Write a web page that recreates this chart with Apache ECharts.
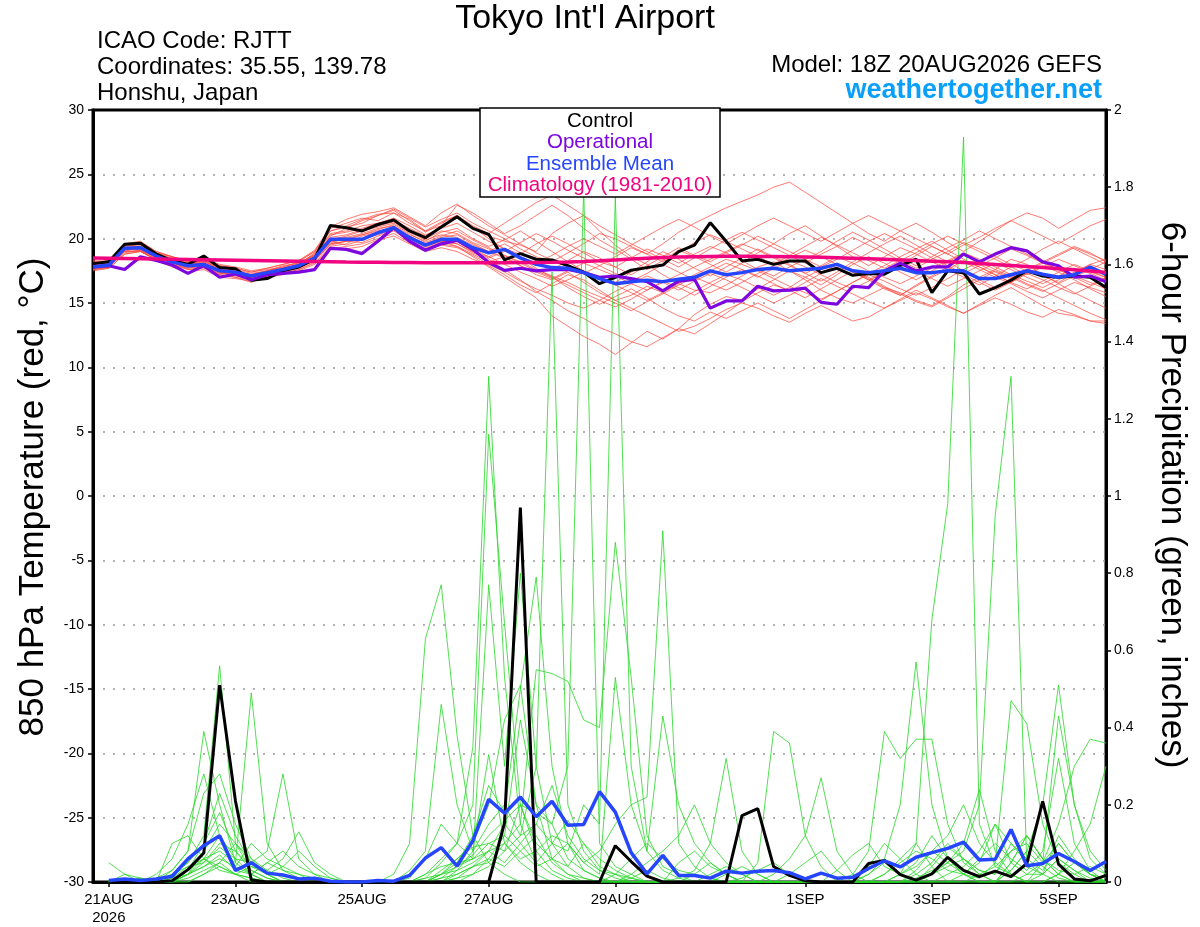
<!DOCTYPE html>
<html>
<head>
<meta charset="utf-8">
<script src="https://cdn.jsdelivr.net/npm/echarts@6/dist/echarts.min.js"></script>
<style>
html,body{margin:0;padding:0;background:#fff;}
#chart{width:1200px;height:927px;}
</style>
</head>
<body>
<div id="chart"></div>
<script>
// ---------- time axis (6-hourly from 18Z 20AUG2026, 65 steps) ----------
const runStartUTC = Date.UTC(2026, 7, 20, 18);
const stepHours = 6;
const stepCount = 65;
const monthNames = ["JAN","FEB","MAR","APR","MAY","JUN","JUL","AUG","SEP","OCT","NOV","DEC"];
const times = [];
for (let k = 0; k < stepCount; k++) {
  const d = new Date(runStartUTC + k * stepHours * 3600000);
  times.push(String(d.getUTCDate()).padStart(2, "0") + monthNames[d.getUTCMonth()] + " " + String(d.getUTCHours()).padStart(2, "0") + "Z");
}
const tickTimes  = ["21AUG 00Z","23AUG 00Z","25AUG 00Z","27AUG 00Z","29AUG 00Z","01SEP 00Z","03SEP 00Z","05SEP 00Z"];
const tickLabels = ["21AUG\n2026","23AUG","25AUG","27AUG","29AUG","1SEP","3SEP","5SEP"];

// ---------- 850 hPa temperature (°C) ----------
const tempControl = [18.06,18.2,19.56,19.64,18.8,18.3,18.0,18.65,17.75,17.67,
  16.77,16.9,17.5,17.8,18.4,21.03,20.85,20.6,21.1,21.45,
  20.6,20.08,20.9,21.7,20.8,20.34,18.35,18.84,18.4,18.35,
  17.9,17.4,16.5,17.0,17.55,17.75,17.95,19.0,19.5,21.24,
  19.8,18.27,18.4,18.0,18.27,18.27,17.36,17.7,17.15,17.3,
  17.23,17.9,18.4,15.8,17.5,17.36,15.7,16.2,16.77,17.5,
  17.1,17.0,17.1,17.0,16.2];
const tempOperational = [17.8,17.9,17.6,18.6,18.3,17.95,17.3,17.9,17.0,17.25,
  16.8,17.2,17.3,17.4,17.6,19.25,19.17,18.84,19.8,20.85,
  19.8,19.1,19.6,19.87,19.17,18.14,17.54,17.7,17.5,17.6,
  17.6,17.36,17.0,17.1,16.9,16.66,15.94,16.7,16.84,14.6,
  15.16,15.16,16.3,15.94,16.0,16.15,15.05,14.9,16.3,16.2,
  17.5,18.1,17.5,17.8,17.8,18.8,18.2,18.8,19.3,19.05,
  18.2,17.9,17.0,17.1,16.66];
const tempMean = [17.8,17.95,19.25,19.3,18.65,18.2,17.9,18.0,17.5,17.4,
  17.1,17.36,17.6,17.9,18.5,19.95,19.95,19.95,20.46,20.85,
  20.08,19.5,19.95,19.95,19.3,18.9,19.17,18.5,18.0,17.75,
  17.7,17.36,16.9,16.5,16.66,16.77,16.66,16.84,17.0,17.5,
  17.2,17.36,17.6,17.7,17.5,17.6,17.7,18.0,17.5,17.36,
  17.5,17.7,17.36,17.36,17.5,17.5,16.9,16.9,17.2,17.5,
  17.23,17.0,17.2,17.8,17.23];
const tempClimatology = [18.5,18.48,18.46,18.44,18.42,18.4,18.38,18.36,18.34,18.32,
  18.3,18.28,18.26,18.24,18.22,18.2,18.18,18.17,18.16,18.15,
  18.14,18.13,18.12,18.12,18.12,18.12,18.13,18.14,18.15,18.16,
  18.18,18.22,18.28,18.35,18.42,18.48,18.53,18.57,18.6,18.62,
  18.63,18.63,18.62,18.61,18.6,18.58,18.55,18.52,18.48,18.44,
  18.4,18.35,18.3,18.25,18.2,18.14,18.07,18.0,17.92,17.84,
  17.76,17.67,17.58,17.48,17.38];
const tempMembers = [
 [18.0,18.1,19.0,19.4,18.6,18.4,18.0,18.3,17.6,17.2,16.8,17.0,17.4,17.9,18.8,20.4,20.6,21.0,21.2,21.4,20.8,20.2,20.9,21.6,20.8,20.2,19.8,19.5,19.0,20.4,21.2,21.8,20.6,19.5,18.6,18.0,17.2,16.5,16.0,15.8,16.4,17.1,17.8,18.2,17.5,16.8,16.0,15.4,15.0,15.6,16.2,15.8,15.2,14.8,15.5,16.4,17.0,17.6,18.4,18.0,17.2,16.5,15.8,15.2,14.6],
 [17.6,17.8,19.2,19.1,18.3,18.0,17.6,17.8,17.2,17.0,16.6,17.1,17.3,17.6,18.2,19.4,19.6,20.2,20.5,20.8,20.2,19.5,19.8,19.4,18.6,17.8,17.0,16.2,15.4,14.0,13.2,12.4,11.8,11.0,11.9,12.8,12.2,13.0,14.1,14.9,15.5,15.2,16.1,16.8,17.5,17.0,16.4,17.2,18.0,18.6,18.1,17.4,16.8,17.5,18.2,18.8,18.0,17.4,16.9,17.6,18.2,17.6,17.0,16.4,17.0],
 [18.2,18.0,19.4,19.6,18.9,18.5,18.1,18.2,17.8,17.6,17.3,17.5,17.9,18.1,18.7,20.2,20.8,21.4,21.8,22.3,21.6,20.9,21.5,22.0,21.2,20.6,20.0,19.2,18.6,18.2,18.9,19.6,20.4,20.0,19.4,18.8,19.6,20.5,21.2,21.8,22.4,22.9,23.4,24.0,24.4,23.6,22.8,22.0,21.2,20.4,19.8,20.6,21.2,20.5,19.7,19.0,19.8,20.6,21.4,22.0,21.6,20.8,21.5,22.2,22.4],
 [17.7,17.9,19.0,19.0,18.4,18.0,17.7,17.9,17.3,17.2,16.9,17.2,17.4,17.7,18.3,19.6,19.8,19.7,20.2,20.6,19.8,19.2,19.6,19.4,18.8,18.2,18.6,17.9,17.2,16.8,17.4,16.6,15.8,15.2,15.6,16.3,15.8,15.2,15.9,16.6,17.2,16.8,16.2,15.6,16.2,17.0,17.6,18.1,17.4,16.8,16.1,15.6,16.4,17.1,17.8,17.2,16.6,16.0,16.6,17.3,16.8,16.2,15.7,16.3,16.9],
 [18.1,18.3,19.5,19.7,18.9,18.6,18.2,18.4,17.9,17.7,17.4,17.6,17.8,18.2,19.0,20.8,21.2,21.6,21.4,22.0,21.5,20.6,21.0,22.6,22.0,21.2,20.4,21.0,21.8,22.6,21.8,20.8,19.9,19.2,18.4,17.6,18.3,19.1,18.6,18.0,17.4,18.1,18.9,19.6,20.4,21.0,20.2,19.4,18.6,17.9,18.6,19.3,18.8,18.2,17.6,17.0,16.4,17.1,17.8,18.4,19.2,19.8,19.2,18.6,18.0],
 [17.5,17.7,18.8,19.0,18.3,17.8,17.4,17.6,17.0,16.9,16.7,17.0,17.2,17.5,18.0,19.3,19.2,19.4,19.9,20.2,19.6,19.0,19.3,19.0,18.4,17.9,17.2,16.4,15.8,16.5,17.2,16.8,16.0,15.2,14.6,14.0,13.4,12.8,13.2,13.8,14.5,15.0,14.6,14.0,13.5,14.2,14.8,14.2,13.6,13.9,14.6,15.3,16.0,15.4,14.8,14.2,14.9,15.6,16.2,15.5,14.8,14.2,14.0,13.6,13.6],
 [17.9,18.0,19.3,19.2,18.7,18.3,17.9,18.1,17.5,17.3,17.0,17.3,17.6,17.8,18.6,20.0,20.1,20.4,20.8,21.0,20.3,19.8,20.5,20.8,20.0,19.4,19.9,20.6,19.8,19.0,18.2,17.5,17.0,16.6,17.4,18.2,19.0,18.4,17.7,17.1,17.8,18.5,19.2,18.6,18.0,17.3,16.7,17.4,18.2,18.9,19.6,20.2,19.5,18.8,18.2,17.5,16.8,16.2,16.9,17.6,17.1,16.6,17.3,18.0,18.4],
 [17.8,17.9,19.1,19.3,18.5,18.1,17.8,18.0,17.4,17.1,16.9,17.1,17.5,17.8,18.4,19.8,19.5,19.9,20.4,20.9,20.2,19.4,19.8,19.6,18.9,18.4,17.6,16.8,15.9,15.2,14.4,13.8,13.1,12.6,12.0,11.6,12.3,13.0,12.6,13.4,14.2,15.1,15.8,16.4,16.0,15.4,16.1,16.8,17.5,16.9,16.2,15.6,16.3,17.0,17.6,18.3,17.8,17.2,16.6,17.3,17.9,17.4,16.8,16.1,15.5],
 [18.0,18.2,19.4,19.5,18.8,18.3,18.0,18.2,17.7,17.5,17.2,17.4,17.7,18.0,18.9,20.6,20.9,21.2,21.8,22.2,21.4,20.5,21.2,21.8,20.9,20.0,19.2,18.8,19.6,20.2,19.6,18.9,18.2,17.8,18.5,19.2,18.7,18.1,18.8,19.4,18.9,18.3,17.6,17.1,17.8,18.4,19.0,19.8,20.5,19.9,19.2,18.5,17.9,18.6,19.3,19.9,20.6,20.0,19.4,18.8,18.2,18.8,19.4,18.9,18.2],
 [17.6,17.8,18.9,19.1,18.5,18.2,17.8,17.8,17.3,17.2,17.0,17.4,17.6,17.9,18.5,19.7,20.0,20.3,20.7,21.1,20.4,19.7,20.2,20.6,19.9,19.3,18.7,18.1,17.5,17.0,16.4,15.8,15.2,14.7,15.3,16.0,16.7,16.2,15.6,16.3,17.0,17.6,17.1,16.5,15.9,16.6,17.3,18.0,17.6,17.0,16.3,15.7,15.1,14.7,15.4,16.1,16.8,17.5,17.0,16.4,15.9,16.5,17.1,16.6,16.1],
 [18.3,18.2,19.6,19.8,19.0,18.6,18.3,18.5,18.0,17.8,17.5,17.7,18.0,18.3,19.1,20.9,21.5,21.9,22.1,22.4,21.7,21.0,22.0,22.7,21.8,21.0,20.3,19.6,18.9,18.3,17.8,17.3,17.9,18.6,19.3,18.8,18.2,18.9,19.7,20.3,19.8,19.2,18.6,18.0,18.7,19.4,20.1,19.5,18.9,18.3,17.7,18.3,18.9,19.6,20.2,19.6,19.0,18.4,17.8,17.2,17.8,18.4,17.9,17.4,17.0],
 [17.7,17.8,19.1,19.2,18.5,18.1,17.7,17.9,17.4,17.2,16.8,17.2,17.5,17.8,18.4,19.5,19.8,20.0,20.3,20.7,20.0,19.3,19.7,19.8,19.0,18.6,19.2,18.5,17.7,17.0,16.2,15.5,14.9,15.5,16.1,15.4,14.6,14.0,13.6,14.3,13.8,14.4,15.0,14.4,13.8,14.5,15.2,15.9,16.6,17.2,16.7,16.1,15.6,16.2,16.9,17.6,18.2,17.6,17.1,16.5,16.0,15.4,14.8,14.2,13.7],
 [17.9,18.1,19.2,19.3,18.6,18.2,17.8,18.1,17.6,17.4,17.1,17.3,17.6,17.9,18.6,19.9,20.2,20.6,20.9,21.2,20.5,19.9,20.3,20.1,19.5,19.0,19.6,18.9,18.3,17.6,18.3,19.0,18.5,17.8,17.2,17.9,18.6,19.3,18.7,18.2,18.9,19.5,20.2,19.6,19.0,18.4,17.8,18.4,19.1,19.8,20.4,19.8,19.2,18.5,17.9,17.3,17.9,18.5,19.2,18.7,18.1,17.6,17.0,17.6,18.2],
 [17.8,18.0,19.3,19.4,18.7,18.2,17.9,18.0,17.5,17.4,17.2,17.5,17.7,18.0,18.6,19.9,20.0,19.9,20.5,20.9,20.1,19.6,20.0,19.8,19.2,18.6,18.0,17.4,16.9,16.3,16.8,17.4,16.9,16.4,15.8,15.2,15.8,16.5,17.2,17.8,18.4,18.0,17.5,16.9,16.3,15.8,15.3,15.9,16.6,17.3,17.9,18.6,19.2,19.8,19.1,18.4,17.8,17.2,16.6,16.1,16.7,17.4,18.0,17.5,17.0],
 [17.7,17.9,19.0,19.1,18.5,18.1,17.8,18.0,17.4,17.3,17.0,17.3,17.5,17.8,18.3,19.6,19.8,20.0,20.4,20.7,20.0,19.4,19.8,19.6,19.0,18.5,19.0,19.7,20.4,19.8,19.1,18.5,17.9,17.3,16.7,17.3,18.0,17.4,16.8,17.5,18.1,17.6,17.0,17.7,18.3,17.8,17.2,16.6,16.1,16.7,17.4,18.0,18.7,19.4,18.8,18.2,17.6,17.0,16.5,15.9,15.4,16.0,16.6,16.2,15.8],
 [17.6,17.7,18.8,19.0,18.4,18.0,17.6,17.7,17.2,17.0,16.8,17.1,17.3,17.6,18.1,19.2,19.4,19.6,20.0,20.4,19.7,19.1,19.5,19.3,18.7,18.0,17.4,16.7,16.1,15.6,15.0,14.6,15.2,15.9,16.5,17.1,16.6,16.0,16.7,17.3,16.8,16.2,15.6,15.0,15.6,16.2,16.9,16.3,15.7,15.1,14.6,15.2,15.8,15.3,14.7,14.2,14.8,15.4,14.9,14.3,13.9,14.5,14.1,13.6,13.4],
 [18.1,18.2,19.5,19.6,18.8,18.4,18.1,18.3,17.8,17.5,17.2,17.5,17.8,18.1,18.8,20.3,20.5,20.8,21.2,21.6,21.0,20.3,20.8,21.2,20.5,19.8,19.2,18.6,18.1,18.7,19.4,20.0,19.4,18.8,19.5,20.2,20.9,21.5,20.9,20.2,19.6,20.3,21.0,21.6,21.0,20.4,19.8,20.5,21.2,21.8,21.2,20.6,20.0,19.4,18.8,19.5,20.1,20.8,21.4,20.8,20.2,19.6,20.3,21.0,21.5],
 [17.8,18.0,19.2,19.3,18.6,18.3,18.0,18.1,17.6,17.4,17.0,17.4,17.7,18.0,18.5,19.8,19.9,20.3,20.6,20.8,20.2,19.6,20.1,20.3,19.6,19.0,18.5,17.9,17.4,16.9,17.5,18.1,17.6,17.1,16.5,16.0,16.6,17.2,17.8,18.4,19.0,19.6,19.1,18.5,17.9,17.3,17.9,18.6,18.1,17.5,17.0,16.5,17.1,17.7,18.3,18.9,18.4,17.8,17.2,16.7,16.2,16.8,17.4,18.0,17.6],
 [18.0,18.1,19.3,19.4,18.7,18.3,17.9,18.1,17.6,17.4,17.1,17.4,17.6,18.0,18.7,20.1,20.3,20.7,21.0,21.3,20.7,20.0,20.6,20.4,19.7,19.2,18.7,18.2,17.6,17.1,16.6,16.0,15.5,15.0,14.4,15.1,15.7,16.4,17.0,16.5,16.0,16.6,17.3,17.9,18.5,19.1,18.6,18.0,17.4,16.8,17.4,18.0,17.5,16.9,16.3,16.9,17.5,18.1,17.6,17.0,16.5,17.1,17.7,17.3,16.8],
 [18.2,18.3,19.5,19.7,19.0,18.6,18.2,18.3,17.9,17.7,17.4,17.7,18.0,18.3,19.0,20.6,21.0,21.5,21.9,22.0,21.2,20.6,21.3,21.8,21.0,20.4,21.2,22.0,22.8,23.4,22.6,21.8,21.0,20.3,19.6,19.0,18.4,17.8,18.5,19.2,19.9,20.5,19.9,19.3,18.7,18.1,18.8,19.4,20.1,19.5,18.9,18.3,17.7,18.4,19.0,19.7,19.2,18.6,18.0,17.5,18.1,18.7,19.3,18.8,18.3]
];

// ---------- 6-hour precipitation (inches); first step has no value ----------
const precipControl = [null,
  0,0,0,0,0.003,0.032,0.075,0.51,
  0.21,0.005,0,0,0,0,0,0,
  0,0,0,0,0,0,0,0,
  0,0.153,0.97,0,0,0,0,0,
  0.094,0.053,0.015,0,0,0,0,0,
  0.172,0.19,0.04,0.017,0.003,0,0,0,
  0.048,0.056,0.019,0.005,0.021,0.064,0.03,0.014,
  0.028,0.014,0.048,0.209,0.046,0.008,0.003,0.017];
const precipMean = [null,
  0.004,0.008,0.004,0.008,0.015,0.06,0.094,0.12,
  0.03,0.05,0.023,0.018,0.008,0.01,0.002,0,
  0,0.004,0.002,0.017,0.062,0.089,0.041,0.107,
  0.214,0.178,0.22,0.169,0.209,0.147,0.149,0.234,
  0.181,0.076,0.021,0.069,0.017,0.017,0.01,0.028,
  0.023,0.028,0.03,0.024,0.008,0.023,0.01,0.012,
  0.035,0.055,0.039,0.064,0.076,0.087,0.103,0.057,
  0.059,0.136,0.042,0.048,0.074,0.053,0.03,0.053];
const precipMembers = [
 [null,0,0,0,0.01,0.03,0.08,0.39,0.20, 0.05,0.02,0,0,0,0,0,0, 0,0,0.02,0.1,0.63,0.77,0.38,0.12, 0.05,0.02,0,0,0,0,0,0, 0.02,0,0,0,0,0,0,0, 0.01,0.03,0.05,0.02,0,0,0,0, 0.04,0.1,0.06,0.02,0,0,0,0, 0,0.05,0.12,0.06,0.02,0,0,0],
 [null,0,0.02,0.01,0,0.02,0.05,0.12,0.56, 0.10,0.03,0.01,0,0,0,0,0, 0,0,0,0.03,0.08,0.46,0.2,0.08, 0.33,0.1,0.05,0.02,0,0,0,0, 0,0,0,0,0,0.02,0.05,0.02, 0,0.05,0.39,0.36,0.12,0.04,0,0, 0,0.02,0.06,0.1,0.04,0,0,0, 0,0.03,0.08,0.04,0.01,0,0,0],
 [null,0,0,0,0,0,0.02,0.06,0.08, 0.05,0.49,0.10,0.03,0.01,0,0,0, 0,0,0,0.01,0.06,0.15,0.1,0.35, 1.31,0.53,0.15,0.05,0.02,0,0,0, 0,0.01,0.03,0.01,0,0,0,0, 0,0,0,0.02,0.05,0.08,0.03,0, 0.02,0.06,0.2,0.57,0.2,0.06,0.02,0, 0,0,0.02,0.05,0.1,0.05,0.02,0],
 [null,0,0,0.01,0,0.02,0.04,0.05,0.09, 0.06,0.05,0.08,0.28,0.06,0.02,0,0, 0,0,0,0,0.02,0.06,0.1,0.2, 1.16,0.67,0.2,0.08,0.03,0.01,0,0, 0,0,0,0,0.01,0.03,0.1,0.32, 0.08,0.02,0,0,0,0,0,0, 0,0,0,0.03,0.08,0.05,0.02,0.01, 0.05,0.47,0.41,0.15,0.05,0.02,0,0],
 [null,0.05,0.02,0,0,0.03,0.08,0.23,0.28, 0.15,0.06,0.02,0,0,0,0,0, 0,0,0,0,0,0.03,0.06,0.1, 0.2,0.42,0.51,0.2,0.06,0.02,0,0, 0,0,0,0,0,0,0,0.02, 0.04,0.02,0,0,0,0,0,0.02, 0.08,0.39,0.32,0.37,0.37,0.15,0.05,0.02, 0,0,0,0.02,0.06,0.03,0,0],
 [null,0,0,0,0.02,0.06,0.15,0.28,0.12, 0.04,0.02,0,0,0,0,0,0, 0,0,0,0,0.01,0.05,0.1,0.06, 0.77,0.3,0.8,0.3,0.1,0.04,0.01,0, 0,0,0,0,0,0,0,0, 0,0,0.02,0.06,0.12,0.27,0.08,0.02, 0,0,0,0,0.02,0.05,0.1,0.24, 0.08,0.02,0,0,0,0,0,0],
 [null,0,0,0,0,0,0.03,0.1,0.18, 0.08,0.04,0.03,0.06,0.13,0.05,0.02,0, 0,0,0,0,0,0.02,0.05,0.12, 0.25,0.18,0.5,0.79,0.3,0.1,0.03,0.01, 0,0,0,0,0,0,0.02,0.04, 0.02,0,0,0,0,0,0,0, 0.02,0.05,0.02,0,0.04,0.09,0.06,0.02, 0,0.03,0.08,0.2,0.51,0.2,0.06,0.02],
 [null,0,0,0,0,0.02,0.05,0.1,0.23, 0.12,0.05,0.02,0.04,0.08,0.04,0.01,0, 0,0,0,0,0,0,0.03,0.08, 0.15,0.2,0.12,0.3,1.58,0.2,0.08,0.03, 0.01,0,0,0,0,0,0,0, 0,0,0,0,0,0,0.03,0.07, 0.1,0.04,0.02,0.05,0.12,0.06,0.02,0, 0,0,0,0.05,0.43,0.2,0.08,0.03],
 [null,0,0,0,0,0.1,0.12,0.06,0.03, 0.02,0.04,0.02,0,0,0,0,0, 0,0,0,0,0,0.01,0.04,0.07, 0.12,0.16,0.2,0.18,0.15,0.3,1.8,0.1, 0.04,0.02,0,0,0,0,0,0, 0,0,0,0,0,0,0,0, 0,0,0.02,0.1,0.68,0.98,1.93,0.15, 0.04,0.02,0,0,0.02,0.05,0.02,0],
 [null,0,0,0,0,0,0.02,0.04,0.07, 0.03,0.02,0.05,0.08,0.04,0.02,0.01,0, 0,0,0,0,0,0.02,0.06,0.09, 0.1,0.08,0.12,0.15,0.1,0.08,0.2,0.15, 1.78,0.3,0.08,0.03,0.01,0,0,0, 0,0,0,0,0,0,0,0, 0,0,0,0.01,0.03,0.05,0.08,0.2, 0.95,1.31,0.04,0.02,0,0,0,0],
 [null,0,0,0.01,0,0,0.01,0.03,0.05, 0.02,0.01,0,0,0,0,0,0, 0,0,0,0,0.02,0.04,0.05,0.06, 0.08,0.1,0.15,0.55,0.54,0.52,0.42,0.4, 0.88,0.53,0.12,0.04,0.02,0,0,0, 0,0,0,0,0,0,0,0, 0,0,0,0,0.02,0.04,0.06,0.03, 0.02,0.08,0.1,0.05,0.15,0.3,0.37,0.36],
 [null,0,0,0,0,0,0,0.02,0.04, 0.02,0,0,0,0,0,0,0, 0,0,0,0,0,0,0.02,0.04, 0.05,0.1,0.06,0.08,0.12,0.1,0.05,0.08, 0.15,0.2,0.22,0.91,0.1,0.04,0.01,0, 0,0,0,0,0,0,0,0, 0,0.02,0.05,0.08,0.06,0.03,0.02,0.05, 0.15,0.1,0.06,0.03,0.1,0.05,0.02,0.01],
 [null,0,0,0,0,0.01,0.02,0.05,0.1, 0.08,0.03,0.01,0,0,0,0,0, 0,0,0,0,0,0,0.01,0.02, 0.06,0.12,0.08,0.04,0.06,0.1,0.05,0.02, 0.53,0.2,0.08,0.43,0.2,0.1,0.05,0.02, 0,0,0,0,0,0,0,0, 0,0,0,0,0,0,0.02,0.06, 0.1,0.06,0.03,0.08,0.32,0.1,0.03,0],
 [null,0,0,0,0,0.01,0.04,0.06,0.12, 0.06,0.02,0.05,0.03,0.02,0,0,0, 0,0,0,0,0,0.02,0.04,0.06, 0.1,0.12,0.42,0.2,0.15,0.06,0.03,0.01, 0,0.02,0.05,0.08,0.12,0.2,0.1,0.05, 0.02,0,0,0,0,0,0,0, 0,0,0.02,0.04,0.08,0.12,0.2,0.1, 0.05,0.02,0,0,0.02,0.08,0.15,0.3],
 [null,0,0,0,0,0,0.02,0.04,0.06, 0.04,0.1,0.06,0.04,0.02,0.01,0,0, 0,0,0,0,0.01,0.02,0.03,0.05, 0.08,0.05,0.1,0.15,0.25,0.12,0.06,0.03, 0.02,0.06,0.1,0.06,0.03,0.02,0.01,0, 0,0,0,0,0,0,0,0, 0,0,0,0,0,0,0,0.02, 0.04,0.08,0.12,0.06,0.03,0.02,0.04,0.02],
 [null,0,0,0,0,0,0,0.02,0.05, 0.1,0.05,0.02,0,0,0,0,0, 0,0,0,0,0,0,0.01,0.04, 0.08,0.15,0.1,0.05,0.1,0.16,0.1,0.04, 0.02,0.01,0,0,0,0,0,0, 0,0,0,0,0,0,0,0, 0,0,0,0.02,0.05,0.1,0.06,0.03, 0.02,0.1,0.05,0.02,0.06,0.03,0.01,0],
 [null,0,0,0,0,0,0.02,0.08,0.15, 0.1,0.06,0.03,0.01,0,0,0,0, 0,0,0,0,0,0,0,0.02, 0.04,0.08,0.2,0.1,0.06,0.04,0.1,0.06, 0.03,0.01,0,0,0,0,0,0, 0,0,0,0,0,0,0,0, 0,0,0,0,0,0,0,0, 0,0.05,0.12,0.06,0.02,0,0,0],
 [null,0,0,0,0,0,0.03,0.06,0.04, 0.02,0.01,0,0,0,0,0,0, 0,0,0,0,0,0.01,0.02,0.04, 0.06,0.04,0.08,0.12,0.05,0.02,0.01,0, 0,0,0,0,0.05,0.08,0.04,0.02, 0,0,0,0,0,0,0,0, 0,0,0,0,0,0.02,0.04,0.08, 0.15,0.05,0.02,0.02,0.12,0.06,0.02,0]
];

// ---------- text ----------
const titleText = "Tokyo Int'l Airport";
const infoLines = ["ICAO Code: RJTT", "Coordinates: 35.55, 139.78", "Honshu, Japan"];
const modelText = "Model: 18Z 20AUG2026 GEFS";
const siteText = "weathertogether.net";
const legendItems = ["Control", "Operational", "Ensemble Mean", "Climatology (1981-2010)"];
const leftAxisName = "850 hPa Temperature (red, \u00B0C)";
const rightAxisName = "6-hour Precipitation (green, inches)";

// ---------- styles ----------
const FONT = '"Liberation Sans", Arial, Helvetica, sans-serif';
const C_RED = 'rgba(255,70,60,0.8)';
const C_GREEN = 'rgba(40,215,40,0.9)';
const C_OPER = '#7d05e0';
const C_MEAN = '#2645ff';
const C_CLIM = '#f0047f';
const legendColors = ['#000000', C_OPER, C_MEAN, C_CLIM];

const series = [];
tempMembers.forEach((m, k) => series.push({
  name: 'T member ' + (k + 1), type: 'line', data: m, yAxisIndex: 0,
  symbol: 'none', lineStyle: { color: C_RED, width: 0.9 }, z: 2, silent: true
}));
precipMembers.forEach((m, k) => series.push({
  name: 'P member ' + (k + 1), type: 'line', data: m, yAxisIndex: 1,
  symbol: 'none', lineStyle: { color: C_GREEN, width: 0.9 }, z: 3, silent: true
}));
series.push({ name: 'T control', type: 'line', data: tempControl, yAxisIndex: 0, symbol: 'none', lineStyle: { color: '#000', width: 3 }, z: 5 });
series.push({ name: 'T operational', type: 'line', data: tempOperational, yAxisIndex: 0, symbol: 'none', lineStyle: { color: C_OPER, width: 3.2 }, z: 6 });
series.push({ name: 'T mean', type: 'line', data: tempMean, yAxisIndex: 0, symbol: 'none', lineStyle: { color: C_MEAN, width: 3.5 }, z: 7 });
series.push({ name: 'T climatology', type: 'line', data: tempClimatology, yAxisIndex: 0, symbol: 'none', lineStyle: { color: C_CLIM, width: 3.5 }, z: 8 });
series.push({ name: 'P control', type: 'line', data: precipControl, yAxisIndex: 1, symbol: 'none', lineStyle: { color: '#000', width: 3 }, z: 5 });
series.push({ name: 'P mean', type: 'line', data: precipMean, yAxisIndex: 1, symbol: 'none', lineStyle: { color: C_MEAN, width: 3.5 }, z: 7 });

const isTick = (idx) => tickTimes.indexOf(times[idx]) >= 0;

const graphics = [
  { type: 'text', x: 585, y: 19, z: 50, style: { text: titleText, font: '34px ' + FONT, fill: '#000', align: 'center', verticalAlign: 'middle' } },
  { type: 'text', x: 97, y: 41, z: 50, style: { text: infoLines[0], font: '24px ' + FONT, fill: '#000', align: 'left', verticalAlign: 'middle' } },
  { type: 'text', x: 97, y: 67, z: 50, style: { text: infoLines[1], font: '24px ' + FONT, fill: '#000', align: 'left', verticalAlign: 'middle' } },
  { type: 'text', x: 97, y: 93, z: 50, style: { text: infoLines[2], font: '24px ' + FONT, fill: '#000', align: 'left', verticalAlign: 'middle' } },
  { type: 'text', x: 1102, y: 65, z: 50, style: { text: modelText, font: '24px ' + FONT, fill: '#000', align: 'right', verticalAlign: 'middle' } },
  { type: 'text', x: 1102, y: 91, z: 50, style: { text: siteText, font: 'bold 27px ' + FONT, fill: '#0aa0fa', align: 'right', verticalAlign: 'middle' } },
  { type: 'text', x: 33, y: 497, rotation: Math.PI / 2, z: 50, style: { text: leftAxisName, font: '35px ' + FONT, fill: '#000', align: 'center', verticalAlign: 'middle' } },
  { type: 'text', x: 1172, y: 495, rotation: -Math.PI / 2, z: 50, style: { text: rightAxisName, font: '35px ' + FONT, fill: '#000', align: 'center', verticalAlign: 'middle' } },
  { type: 'group', x: 480, y: 108, z: 100, children: [
    { type: 'rect', z: 100, shape: { x: 0, y: 0, width: 240, height: 89 }, style: { fill: '#fff', stroke: '#000', lineWidth: 1.5 } }
  ].concat(legendItems.map((t, k) => ({
    type: 'text', z: 101, x: 120, y: 13 + k * 21.5,
    style: { text: t, font: '20.5px ' + FONT, fill: legendColors[k], align: 'center', verticalAlign: 'middle' }
  }))) }
];

const option = {
  animation: false,
  backgroundColor: '#ffffff',
  textStyle: { fontFamily: FONT },
  grid: { left: 93, right: 94, top: 110, bottom: 44, show: true, borderColor: '#000', borderWidth: 3, backgroundColor: 'transparent', containLabel: false },
  xAxis: {
    type: 'category', data: times, boundaryGap: false,
    axisLine: { onZero: false, lineStyle: { color: '#000', width: 3 } },
    axisTick: { show: true, interval: (idx) => isTick(idx), length: 5, lineStyle: { color: '#000', width: 1.5 } },
    axisLabel: { interval: (idx) => isTick(idx), formatter: (v) => { const p = tickTimes.indexOf(v); return p >= 0 ? tickLabels[p] : ''; }, color: '#000', fontSize: 15, lineHeight: 18, margin: 9, fontFamily: FONT },
    splitLine: { show: false }
  },
  yAxis: [
    { type: 'value', min: -30, max: 30, interval: 5, position: 'left',
      axisLine: { show: true, lineStyle: { color: '#000', width: 3 } },
      axisTick: { show: true, length: 5, lineStyle: { color: '#000', width: 1.5 } },
      axisLabel: { color: '#000', fontSize: 14, margin: 9, fontFamily: FONT },
      splitLine: { show: true, showMinLine: false, showMaxLine: false, lineStyle: { color: '#9a9a9a', width: 1.5, type: [2, 8] } } },
    { type: 'value', min: 0, max: 2, interval: 0.2, position: 'right',
      axisLine: { show: true, lineStyle: { color: '#000', width: 3 } },
      axisTick: { show: true, length: 5, lineStyle: { color: '#000', width: 1.5 } },
      axisLabel: { color: '#000', fontSize: 14, margin: 8, fontFamily: FONT, formatter: (v) => String(Math.round(v * 10) / 10) },
      splitLine: { show: false } }
  ],
  series: series,
  graphic: graphics
};

const chart = echarts.init(document.getElementById('chart'), null, { renderer: 'canvas' });
chart.setOption(option);
</script>
</body>
</html>
